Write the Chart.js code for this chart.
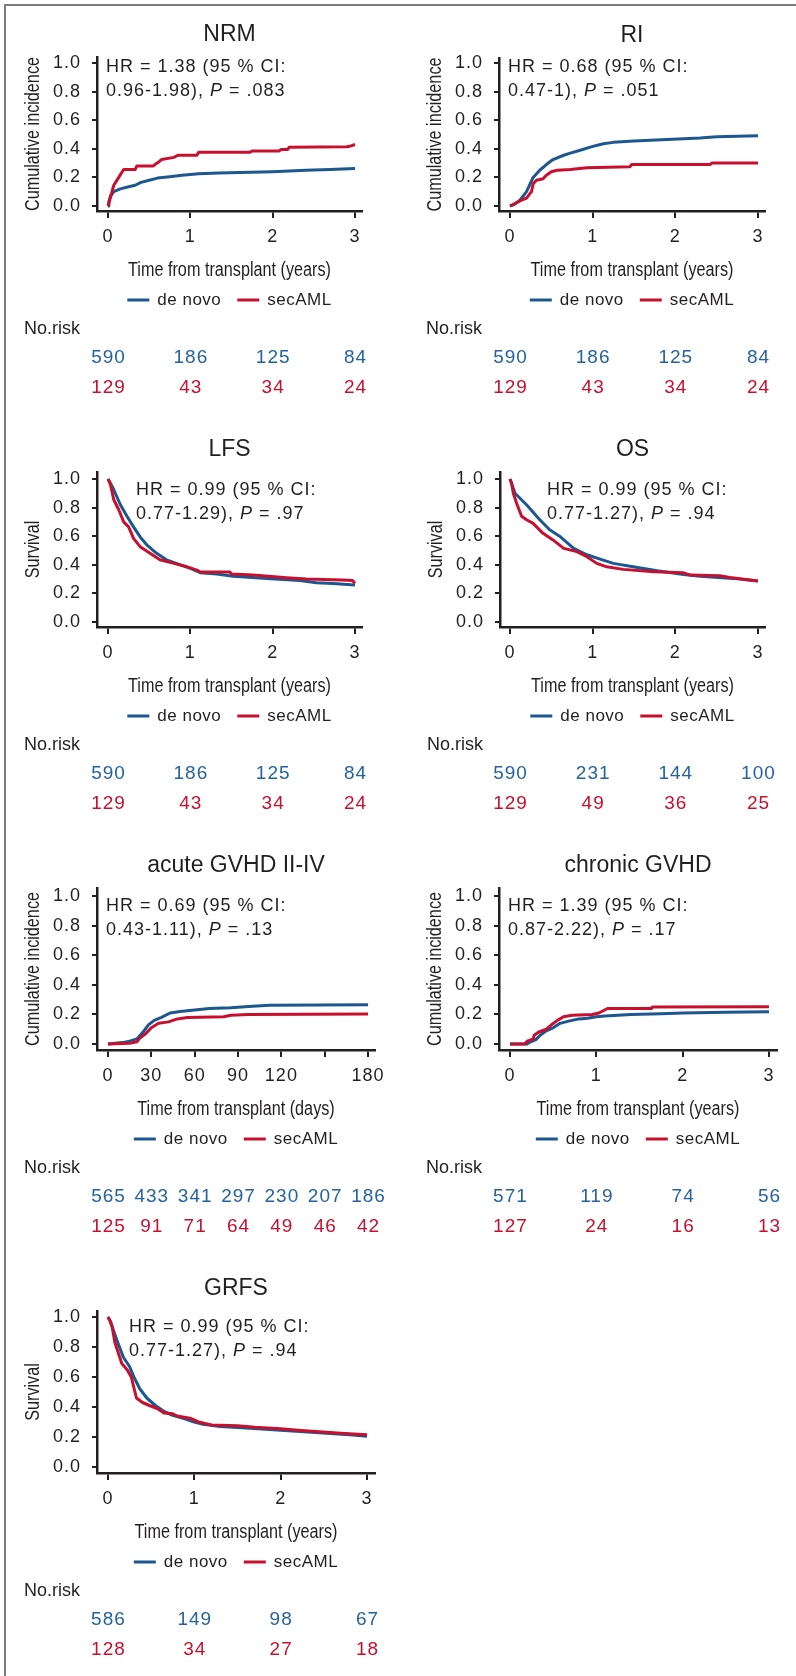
<!DOCTYPE html>
<html>
<head>
<meta charset="utf-8">
<script src="https://cdn.jsdelivr.net/npm/chart.js@4.4.1/dist/chart.umd.min.js"></script>
<style>
html, body { margin: 0; padding: 0; background: #fff; }
body { width: 796px; height: 1676px; position: relative; overflow: hidden; }
#frame { position: absolute; left: 4px; top: 4px; right: -10px; bottom: -10px;
         border-top: 2px solid #7d7d7d; border-left: 2px solid #7d7d7d; }
.panel { position: absolute; }
</style>
</head>
<body>
<div id="frame"></div>
<script>
// --- axis ticks / labels ---
const yearTicks = [0, 1, 2, 3];
const yearTickLabels = ['0', '1', '2', '3'];
const dayTicks = [0, 30, 60, 90, 120, 150, 180];
const dayTickLabels = ['0', '30', '60', '90', '120', '', '180'];
const yTicks = [0, 0.2, 0.4, 0.6, 0.8, 1.0];
const yTickLabels = ['0.0', '0.2', '0.4', '0.6', '0.8', '1.0'];
const seriesNames = ['de novo', 'secAML'];

// --- curves (time, value) ---
const nrmDenovoT = [0, 0.01, 0.03, 0.07, 0.15, 0.25, 0.33, 0.4, 0.5, 0.6, 0.75, 0.9, 1.1, 1.35, 1.6, 2.0, 2.4, 2.7, 3.0];
const nrmDenovoY = [0, 0.03, 0.07, 0.10, 0.12, 0.135, 0.145, 0.165, 0.18, 0.195, 0.205, 0.215, 0.225, 0.23, 0.235, 0.24, 0.25, 0.255, 0.262];
const nrmSecT = [0, 0.03, 0.07, 0.13, 0.19, 0.33, 0.35, 0.55, 0.57, 0.62, 0.65, 0.8, 0.85, 1.08, 1.1, 1.72, 1.75, 2.08, 2.1, 2.18, 2.2, 2.9, 2.95, 3.0];
const nrmSecY = [0, 0.06, 0.145, 0.2, 0.255, 0.255, 0.28, 0.28, 0.29, 0.31, 0.325, 0.34, 0.355, 0.355, 0.375, 0.375, 0.385, 0.385, 0.395, 0.395, 0.41, 0.415, 0.42, 0.43];

const riDenovoT = [0, 0.05, 0.12, 0.2, 0.28, 0.36, 0.44, 0.52, 0.65, 0.73, 0.85, 0.99, 1.13, 1.25, 1.5, 1.9, 2.3, 2.5, 3.0];
const riDenovoY = [0, 0.01, 0.04, 0.10, 0.20, 0.25, 0.29, 0.325, 0.355, 0.37, 0.39, 0.415, 0.435, 0.445, 0.455, 0.465, 0.475, 0.485, 0.492];
const riSecT = [0, 0.12, 0.2, 0.26, 0.28, 0.32, 0.4, 0.44, 0.5, 0.57, 0.73, 0.93, 1.45, 1.47, 2.42, 2.44, 3.0];
const riSecY = [0, 0.035, 0.055, 0.1, 0.155, 0.18, 0.19, 0.215, 0.24, 0.25, 0.255, 0.267, 0.274, 0.29, 0.29, 0.30, 0.30];

const lfsDenovoT = [0, 0.03, 0.07, 0.15, 0.23, 0.31, 0.39, 0.47, 0.59, 0.71, 0.88, 1.0, 1.12, 1.32, 1.52, 1.93, 2.33, 2.53, 2.73, 3.0];
const lfsDenovoY = [1, 0.97, 0.925, 0.82, 0.74, 0.665, 0.595, 0.54, 0.48, 0.435, 0.40, 0.375, 0.345, 0.335, 0.32, 0.305, 0.29, 0.275, 0.27, 0.258];
const lfsSecT = [0, 0.03, 0.07, 0.13, 0.19, 0.25, 0.31, 0.39, 0.51, 0.63, 0.8, 0.96, 1.08, 1.12, 1.48, 1.5, 1.76, 2.17, 2.41, 2.85, 2.97, 3.0];
const lfsSecY = [1, 0.96, 0.855, 0.785, 0.70, 0.665, 0.585, 0.527, 0.48, 0.435, 0.41, 0.386, 0.363, 0.35, 0.35, 0.335, 0.328, 0.31, 0.30, 0.293, 0.29, 0.27];

const osDenovoT = [0, 0.06, 0.2, 0.36, 0.48, 0.6, 0.77, 0.93, 1.09, 1.25, 1.49, 1.78, 2.1, 2.3, 2.7, 3.0];
const osDenovoY = [1, 0.90, 0.82, 0.715, 0.645, 0.60, 0.515, 0.47, 0.44, 0.41, 0.386, 0.358, 0.332, 0.32, 0.305, 0.286];
const osSecT = [0, 0.02, 0.04, 0.08, 0.14, 0.2, 0.28, 0.4, 0.52, 0.65, 0.81, 0.93, 1.05, 1.17, 1.37, 1.74, 2.1, 2.18, 2.54, 2.66, 3.0];
const osSecY = [1, 0.97, 0.90, 0.83, 0.74, 0.715, 0.69, 0.62, 0.574, 0.515, 0.492, 0.457, 0.41, 0.386, 0.368, 0.351, 0.344, 0.328, 0.323, 0.311, 0.286];

const agvhdDenovoT = [0, 5, 10, 15, 20, 25, 28, 32, 37, 43, 50, 60, 70, 85, 100, 112, 180];
const agvhdDenovoY = [0, 0.005, 0.01, 0.02, 0.035, 0.09, 0.13, 0.16, 0.18, 0.21, 0.22, 0.23, 0.24, 0.245, 0.255, 0.262, 0.265];
const agvhdSecT = [0, 15, 20, 22, 26, 30, 35, 42, 48, 55, 80, 85, 97, 180];
const agvhdSecY = [0, 0.005, 0.015, 0.04, 0.07, 0.11, 0.14, 0.15, 0.17, 0.18, 0.185, 0.195, 0.2, 0.203];

const cgvhdDenovoT = [0, 0.2, 0.22, 0.3, 0.35, 0.42, 0.5, 0.58, 0.68, 0.8, 0.9, 1.0, 1.1, 1.25, 1.4, 1.75, 2.0, 2.5, 3.0];
const cgvhdDenovoY = [0, 0, 0.01, 0.03, 0.06, 0.09, 0.11, 0.14, 0.155, 0.17, 0.175, 0.185, 0.19, 0.195, 0.2, 0.205, 0.21, 0.215, 0.218];
const cgvhdSecT = [0, 0.17, 0.2, 0.27, 0.28, 0.33, 0.42, 0.48, 0.55, 0.62, 0.72, 0.95, 1.03, 1.08, 1.13, 1.64, 1.65, 3.0];
const cgvhdSecY = [0, 0, 0.02, 0.035, 0.06, 0.08, 0.1, 0.13, 0.16, 0.185, 0.195, 0.2, 0.21, 0.225, 0.24, 0.24, 0.25, 0.252];

const grfsDenovoT = [0, 0.03, 0.07, 0.12, 0.18, 0.25, 0.3, 0.37, 0.45, 0.55, 0.65, 0.75, 0.9, 1.0, 1.1, 1.3, 1.6, 2.0, 2.4, 2.8, 3.0];
const grfsDenovoY = [1, 0.97, 0.9, 0.82, 0.73, 0.67, 0.6, 0.52, 0.46, 0.41, 0.37, 0.345, 0.32, 0.30, 0.285, 0.27, 0.26, 0.245, 0.23, 0.215, 0.205];
const grfsSecT = [0, 0.02, 0.05, 0.08, 0.12, 0.16, 0.22, 0.27, 0.3, 0.33, 0.4, 0.48, 0.57, 0.65, 0.75, 0.8, 0.95, 1.05, 1.2, 1.5, 1.7, 2.0, 2.2, 2.45, 2.7, 3.0];
const grfsSecY = [1, 0.98, 0.93, 0.83, 0.76, 0.69, 0.65, 0.6, 0.53, 0.46, 0.43, 0.41, 0.39, 0.36, 0.355, 0.34, 0.325, 0.30, 0.28, 0.275, 0.265, 0.255, 0.245, 0.235, 0.225, 0.215];

// --- numbers at risk ---
const nrmRiskDenovo = [590, 186, 125, 84];
const nrmRiskSec = [129, 43, 34, 24];
const riRiskDenovo = [590, 186, 125, 84];
const riRiskSec = [129, 43, 34, 24];
const lfsRiskDenovo = [590, 186, 125, 84];
const lfsRiskSec = [129, 43, 34, 24];
const osRiskDenovo = [590, 231, 144, 100];
const osRiskSec = [129, 49, 36, 25];
const agvhdRiskDenovo = [565, 433, 341, 297, 230, 207, 186];
const agvhdRiskSec = [125, 91, 71, 64, 49, 46, 42];
const cgvhdRiskDenovo = [571, 119, 74, 56];
const cgvhdRiskSec = [127, 24, 16, 13];
const grfsRiskDenovo = [586, 149, 98, 67];
const grfsRiskSec = [128, 34, 27, 18];

// --- hazard ratio notes ---
const nrmHR = ['HR = 1.38 (95 % CI:', '0.96-1.98), ', '.083'];
const riHR = ['HR = 0.68 (95 % CI:', '0.47-1), ', '.051'];
const lfsHR = ['HR = 0.99 (95 % CI:', '0.77-1.29), ', '.97'];
const osHR = ['HR = 0.99 (95 % CI:', '0.77-1.27), ', '.94'];
const agvhdHR = ['HR = 0.69 (95 % CI:', '0.43-1.11), ', '.13'];
const cgvhdHR = ['HR = 1.39 (95 % CI:', '0.87-2.22), ', '.17'];
const grfsHR = ['HR = 0.99 (95 % CI:', '0.77-1.27), ', '.94'];

// --- styling ---
const BLUE = '#1c5790';
const BLUE_TXT = '#2563a0';
const RED = '#c8102e';
const INK = '#231f20';
const SANS = "'Liberation Sans', Arial, Helvetica, sans-serif";
const SQUEEZE = 0.81;   // axis titles are set in a condensed cut

const CI = 'Cumulative incidence';
const SURV = 'Survival';
const XYEARS = 'Time from transplant (years)';
const XDAYS = 'Time from transplant (days)';

// area = chart box on the page [left, top, right, bottom]; note = HR text offset
const panels = [
    { title: 'NRM', yTitle: CI, xTitle: XYEARS, area: [97, 57, 362, 211], xr: [-0.134, 3.085], yr: [-0.035, 1.042],
      ticks: yearTicks, tickLabels: yearTickLabels, dn: [nrmDenovoT, nrmDenovoY], sec: [nrmSecT, nrmSecY],
      riskDn: nrmRiskDenovo, riskSec: nrmRiskSec, hr: nrmHR, note: [9, 10] },
    { title: 'RI', yTitle: CI, xTitle: XYEARS, area: [499, 58, 765, 211], xr: [-0.133, 3.085], yr: [-0.035, 1.035],
      ticks: yearTicks, tickLabels: yearTickLabels, dn: [riDenovoT, riDenovoY], sec: [riSecT, riSecY],
      riskDn: riRiskDenovo, riskSec: riRiskSec, hr: riHR, note: [9, 9] },
    { title: 'LFS', yTitle: SURV, xTitle: XYEARS, area: [97, 472, 362, 627], xr: [-0.134, 3.085], yr: [-0.035, 1.049],
      ticks: yearTicks, tickLabels: yearTickLabels, dn: [lfsDenovoT, lfsDenovoY], sec: [lfsSecT, lfsSecY],
      riskDn: lfsRiskDenovo, riskSec: lfsRiskSec, hr: lfsHR, note: [39, 18] },
    { title: 'OS', yTitle: SURV, xTitle: XYEARS, area: [500, 472, 765, 627], xr: [-0.121, 3.085], yr: [-0.035, 1.049],
      ticks: yearTicks, tickLabels: yearTickLabels, dn: [osDenovoT, osDenovoY], sec: [osSecT, osSecY],
      riskDn: osRiskDenovo, riskSec: osRiskSec, hr: osHR, note: [47, 18] },
    { title: 'acute GVHD II-IV', yTitle: CI, xTitle: XDAYS, area: [97, 888, 375, 1050], xr: [-7.6, 184.8], yr: [-0.04, 1.054],
      ticks: dayTicks, tickLabels: dayTickLabels, dn: [agvhdDenovoT, agvhdDenovoY], sec: [agvhdSecT, agvhdSecY],
      riskDn: agvhdRiskDenovo, riskSec: agvhdRiskSec, hr: agvhdHR, note: [9, 18] },
    { title: 'chronic GVHD', yTitle: CI, xTitle: XYEARS, area: [499, 888, 777, 1050], xr: [-0.127, 3.093], yr: [-0.04, 1.054],
      ticks: yearTicks, tickLabels: yearTickLabels, dn: [cgvhdDenovoT, cgvhdDenovoY], sec: [cgvhdSecT, cgvhdSecY],
      riskDn: cgvhdRiskDenovo, riskSec: cgvhdRiskSec, hr: cgvhdHR, note: [9, 18] },
    { title: 'GRFS', yTitle: SURV, xTitle: XYEARS, area: [97, 1311, 375, 1473], xr: [-0.127, 3.093], yr: [-0.04, 1.04],
      ticks: yearTicks, tickLabels: yearTickLabels, dn: [grfsDenovoT, grfsDenovoY], sec: [grfsSecT, grfsSecY],
      riskDn: grfsRiskDenovo, riskSec: grfsRiskSec, hr: grfsHR, note: [32, 16] }
];

const toXY = (t, v) => t.map((x, i) => ({ x: x, y: v[i] }));

// title, axis titles, HR note, legend and risk table drawn around the chart box
function panelText(p) {
    return {
        id: 'panelText',
        beforeDraw(chart) {
            // slightly open tracking for the tick labels, like the original typeface
            chart.ctx.letterSpacing = '1px';
        },
        afterDraw(chart) {
            const { ctx, chartArea: a, scales } = chart;
            const cx = (a.left + a.right) / 2;
            ctx.save();
            ctx.fillStyle = INK;
            ctx.textBaseline = 'middle';
            ctx.textAlign = 'center';
            ctx.letterSpacing = '0px';
            ctx.font = `23px ${SANS}`;
            ctx.fillText(p.title, cx, a.top - 22);

            // axis titles (condensed)
            ctx.font = `20px ${SANS}`;
            ctx.save();
            ctx.translate(cx, a.bottom + 59);
            ctx.scale(SQUEEZE, 1);
            ctx.fillText(p.xTitle, 0, 0);
            ctx.restore();
            ctx.save();
            ctx.translate(a.left - 64, (a.top + a.bottom) / 2);
            ctx.rotate(-Math.PI / 2);
            ctx.scale(SQUEEZE, 1);
            ctx.fillText(p.yTitle, 0, 0);
            ctx.restore();

            // HR note
            ctx.textAlign = 'left';
            ctx.letterSpacing = '1px';
            ctx.font = `18px ${SANS}`;
            let x = a.left + p.note[0];
            let y = a.top + p.note[1];
            ctx.fillText(p.hr[0], x, y);
            y += 24;
            ctx.fillText(p.hr[1], x, y);
            x += ctx.measureText(p.hr[1]).width;
            ctx.font = `italic 18px ${SANS}`;
            ctx.fillText('P', x, y);
            x += ctx.measureText('P').width;
            ctx.font = `18px ${SANS}`;
            ctx.fillText(' = ' + p.hr[2], x, y);

            // legend
            ctx.letterSpacing = '0.5px';
            ctx.font = `17px ${SANS}`;
            const w1 = ctx.measureText(seriesNames[0]).width;
            const w2 = ctx.measureText(seriesNames[1]).width;
            let lx = cx - (22 + 8 + w1 + 16 + 22 + 8 + w2) / 2;
            const ly = a.bottom + 89;
            ctx.lineWidth = 3;
            [[BLUE, seriesNames[0], w1], [RED, seriesNames[1], w2]].forEach(([c, t, w]) => {
                ctx.strokeStyle = c;
                ctx.beginPath();
                ctx.moveTo(lx, ly);
                ctx.lineTo(lx + 22, ly);
                ctx.stroke();
                ctx.fillStyle = INK;
                ctx.fillText(t, lx + 30, ly);
                lx += 30 + w + 16;
            });

            // numbers at risk
            ctx.letterSpacing = '0px';
            ctx.font = `18px ${SANS}`;
            ctx.fillStyle = INK;
            ctx.fillText('No.risk', a.left - 73, a.bottom + 118);
            ctx.letterSpacing = '1px';
            ctx.font = `19px ${SANS}`;
            ctx.textAlign = 'center';
            [[p.riskDn, BLUE_TXT, 147], [p.riskSec, RED, 177]].forEach(([row, c, dy]) => {
                ctx.fillStyle = c;
                row.forEach((n, i) => {
                    ctx.fillText(String(n), scales.x.getPixelForValue(p.ticks[i]) + 0.5, a.bottom + dy);
                });
            });
            ctx.restore();
        }
    };
}

panels.forEach(p => {
    const [L, T, R, B] = p.area;
    const w = R - L + 92 + 30;
    const h = B - T + 52 + 190;
    const wrap = document.createElement('div');
    wrap.className = 'panel';
    wrap.style.left = (L - 92) + 'px';
    wrap.style.top = (T - 52) + 'px';
    const cv = document.createElement('canvas');
    cv.width = w;
    cv.height = h;
    cv.style.width = w + 'px';
    cv.style.height = h + 'px';
    wrap.appendChild(cv);
    document.body.appendChild(wrap);

    new Chart(cv, {
        type: 'line',
        data: {
            datasets: [
                { label: seriesNames[1], data: toXY(p.sec[0], p.sec[1]), borderColor: RED },
                { label: seriesNames[0], data: toXY(p.dn[0], p.dn[1]), borderColor: BLUE }
            ]
        },
        options: {
            responsive: false,
            animation: false,
            devicePixelRatio: 1,
            layout: { padding: { left: 17, top: 52, right: 30, bottom: 120 }, autoPadding: false },
            elements: {
                point: { radius: 0 },
                line: { borderWidth: 3, tension: 0, fill: false, borderJoinStyle: 'round' }
            },
            plugins: { legend: { display: false }, tooltip: { enabled: false } },
            scales: {
                x: {
                    type: 'linear', bounds: 'data', min: p.xr[0], max: p.xr[1],
                    afterBuildTicks: s => { s.ticks = p.ticks.map(v => ({ value: v })); },
                    afterFit: s => { s.height = 70; },
                    ticks: {
                        autoSkip: false, maxRotation: 0, minRotation: 0, padding: 8, color: INK,
                        font: { family: SANS, size: 18 },
                        callback: (v, i) => p.tickLabels[i]
                    },
                    grid: { drawOnChartArea: false, tickLength: 7, color: INK, lineWidth: 2 },
                    border: { color: INK, width: 2.5 },
                    title: { display: false }
                },
                y: {
                    type: 'linear', bounds: 'data', min: p.yr[0], max: p.yr[1],
                    afterBuildTicks: s => { s.ticks = yTicks.map(v => ({ value: v })); },
                    afterFit: s => { s.width = 75; },
                    ticks: {
                        padding: 11, color: INK,
                        font: { family: SANS, size: 18 },
                        callback: (v, i) => yTickLabels[i]
                    },
                    grid: { drawOnChartArea: false, tickLength: 5, color: INK, lineWidth: 2 },
                    border: { color: INK, width: 2.5 },
                    title: { display: false }
                }
            }
        },
        plugins: [panelText(p)]
    });
});
</script>
</body>
</html>
